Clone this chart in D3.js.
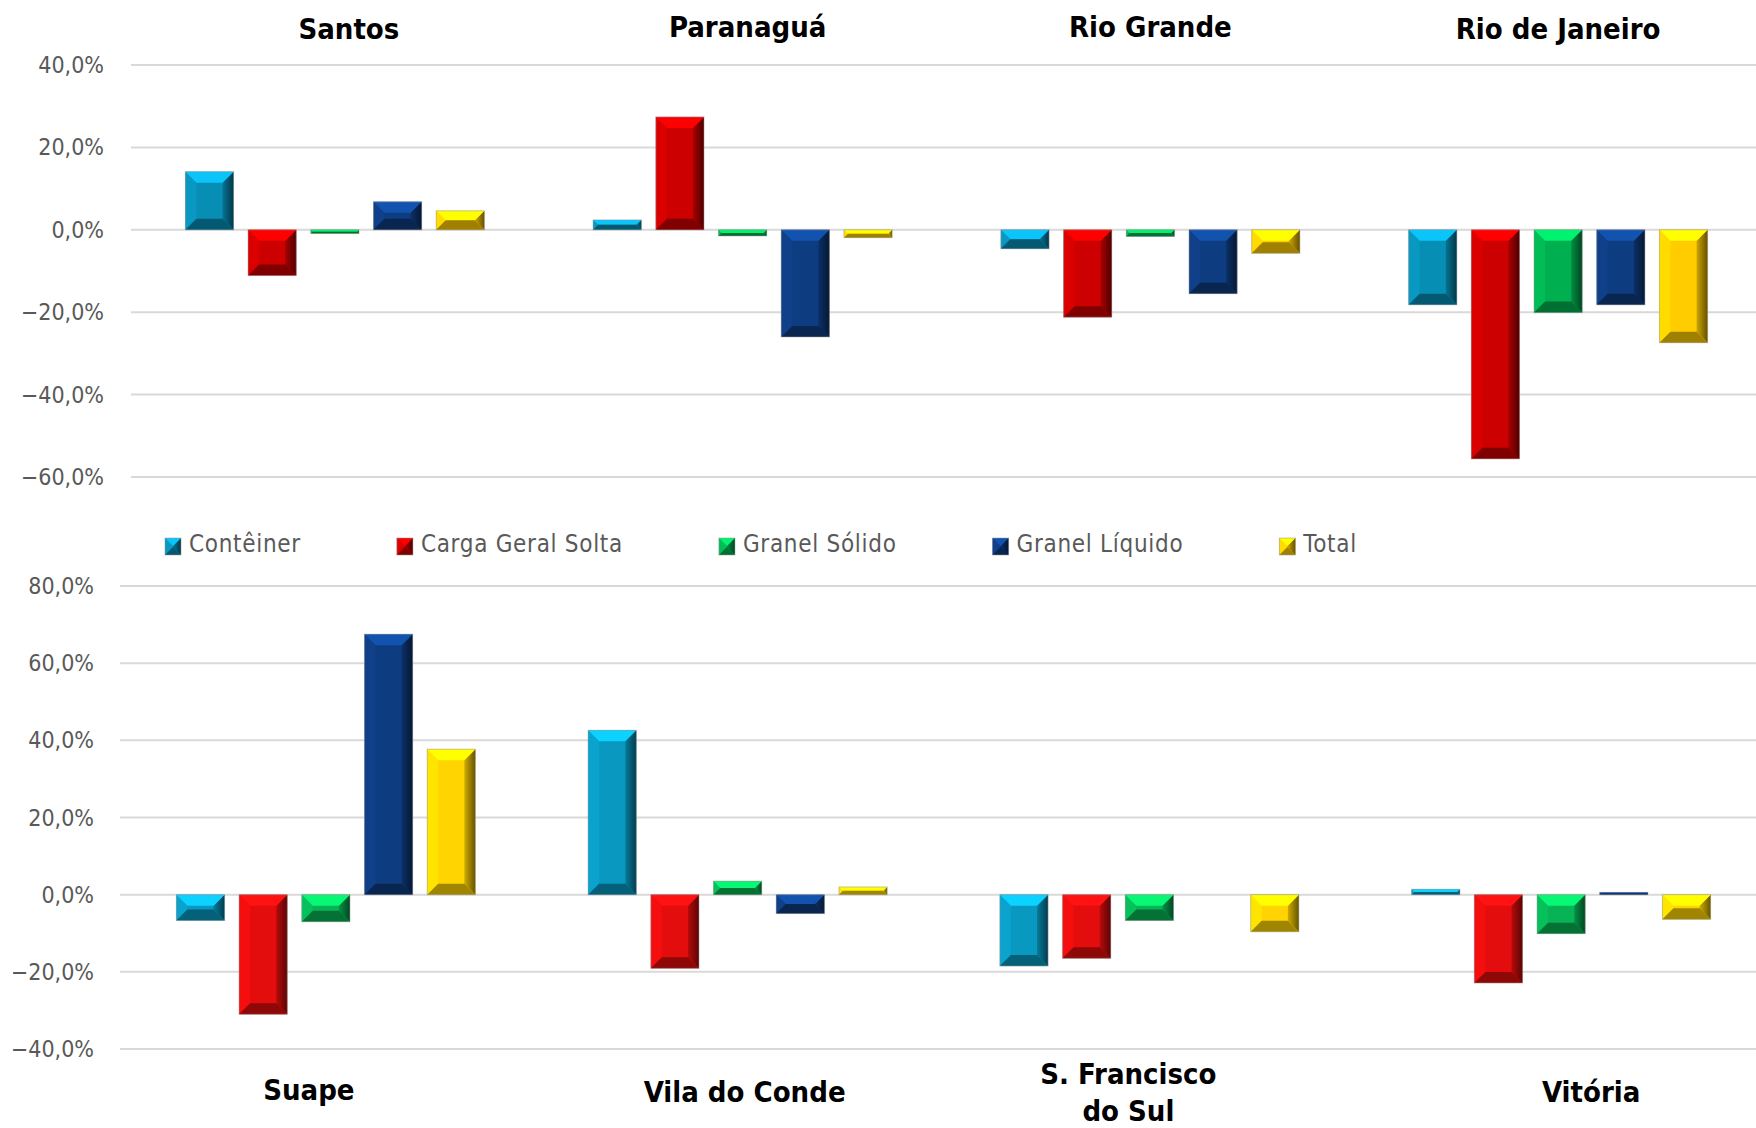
<html>
<head>
<meta charset="utf-8">
<script src="https://d3js.org/d3.v7.min.js"></script>
<style>
body { margin: 0; background: white; }
svg text { font-family: "DejaVu Sans Condensed", "DejaVu Sans", sans-serif; font-stretch: condensed; }
.ticklabel { fill: #595959; font-size: 23px; }
.title { font-weight: bold; font-size: 29px; fill: #000; }
.legend text { fill: #595959; font-size: 24px; letter-spacing: 0.7px; }
</style>
</head>
<body>
<svg width="1756" height="1128"></svg>
<script>
// cargo types (series)
const series = ["Contêiner", "Carga Geral Solta", "Granel Sólido", "Granel Líquido", "Total"];

// upper panel
const topPorts = ["Santos", "Paranaguá", "Rio Grande", "Rio de Janeiro"];
const topValues = [
  [14.1, -11.1, -0.9, 6.8, 4.6],
  [2.4, 27.4, -1.5, -26.0, -1.9],
  [-4.6, -21.2, -1.6, -15.5, -5.7],
  [-18.2, -55.6, -20.1, -18.2, -27.4]
];
const topTicks = [40, 20, 0, -20, -40, -60];

// lower panel
const bottomPorts = ["Suape", "Vila do Conde", "S. Francisco do Sul", "Vitória"];
const bottomLabels = [["Suape"], ["Vila do Conde"], ["S. Francisco", "do Sul"], ["Vitória"]];
const bottomValues = [
  [-6.7, -31.0, -7.0, 67.5, 37.7],
  [42.6, -19.1, 3.5, -4.9, 2.0],
  [-18.5, -16.5, -6.7, null, -9.6],
  [1.4, -22.9, -10.1, 0.6, -6.4]
];
const bottomTicks = [80, 60, 40, 20, 0, -20, -40];

const topColors = ["#078eb5", "#cc0000", "#00b050", "#0e3c80", "#ffcc00"];
const bottomColors = ["#0898c0", "#e30d0d", "#06b455", "#0e3c80", "#ffd400"];

const svg = d3.select("svg");
const W = 1756;
const defs = svg.append("defs");
let gradCount = 0;

function sideGradient(base) {
  const id = "g" + (gradCount++);
  const lg = defs.append("linearGradient").attr("id", id)
    .attr("x1", "0%").attr("x2", "100%").attr("y1", "0%").attr("y2", "0%");
  lg.append("stop").attr("offset", "0%").attr("stop-color", d3.color(base).darker(0.6));
  lg.append("stop").attr("offset", "100%").attr("stop-color", d3.color(base).darker(2.6));
  return id;
}

function bevel(g, x0, w, yA, yB, base, maxB) {
  const yT = Math.min(yA, yB), yBt = Math.max(yA, yB);
  const h = yBt - yT;
  if (h <= 0) return;
  const b = Math.min(maxB, h / 2, w / 2);
  const x1 = x0 + w;
  const light = d3.color(base).brighter(0.9);
  const dark = d3.color(base).darker(1.3);
  const pts = a => a.map(p => p.join(",")).join(" ");
  g.append("rect").attr("x", x0).attr("y", yT).attr("width", w).attr("height", h).attr("fill", base);
  g.append("polygon").attr("points", pts([[x0, yT], [x0 + b, yT + b], [x0 + b, yBt - b], [x0, yBt]]))
    .attr("fill", d3.color(base).brighter(0.2));
  g.append("polygon").attr("points", pts([[x1, yT], [x1 - b, yT + b], [x1 - b, yBt - b], [x1, yBt]]))
    .attr("fill", "url(#" + sideGradient(base) + ")");
  g.append("polygon").attr("points", pts([[x0, yT], [x1, yT], [x1 - b, yT + b], [x0 + b, yT + b]]))
    .attr("fill", light);
  g.append("polygon").attr("points", pts([[x0, yBt], [x1, yBt], [x1 - b, yBt - b], [x0 + b, yBt - b]]))
    .attr("fill", dark);
  g.append("rect").attr("x", x0).attr("y", yT).attr("width", w).attr("height", h)
    .attr("fill", "none").attr("stroke", "rgba(150,150,150,0.5)").attr("stroke-width", 1);
}

const fmt = d => d3.format(".1f")(d).replace(".", ",") + "%";

function panel(o) {
  const y = d3.scaleLinear().domain(o.yDomain).range(o.yRange);
  const x = d3.scaleBand().domain(o.ports).range(o.xRange).paddingInner(0).paddingOuter(0);
  const inner = 5 * 62.7;
  const x1 = d3.scaleBand().domain(series)
    .range([-inner / 2, inner / 2]).paddingInner(0.232).paddingOuter(0.116);

  const g = svg.append("g");
  // gridlines
  g.selectAll(".grid").data(o.ticks).enter().append("line")
    .attr("x1", o.xRange[0]).attr("x2", W)
    .attr("y1", d => y(d)).attr("y2", d => y(d))
    .attr("stroke", "#d9d9d9").attr("stroke-width", 2);
  // tick labels
  g.selectAll(".ticklabel").data(o.ticks).enter().append("text")
    .attr("class", "ticklabel")
    .attr("x", o.labelRight).attr("y", d => y(d)).attr("dy", "0.35em")
    .attr("text-anchor", "end").text(fmt);

  o.ports.forEach((p, i) => {
    const cx = x(p) + x.bandwidth() / 2;
    o.values[i].forEach((v, j) => {
      if (v == null) return;
      bevel(g, cx + x1(series[j]), x1.bandwidth(), y(0), y(v), o.colors[j], 11);
    });
    const lines = o.labels[i];
    const t = g.append("text").attr("class", "title").attr("text-anchor", "middle");
    lines.forEach((ln, k) => {
      t.append("tspan").attr("x", cx + o.titleDx[i])
        .attr("y", o.titleY[i] + k * 37).attr("dy", "0.35em").text(ln);
    });
  });
}

panel({
  ports: topPorts, labels: topPorts.map(p => [p]), values: topValues, ticks: topTicks, colors: topColors,
  yDomain: [-60, 40], yRange: [477, 65], xRange: [131, 1762], labelRight: 104,
  titleY: [29, 27, 27, 29], titleDx: [14, 5, 0, 0]
});

panel({
  ports: bottomPorts, labels: bottomLabels, values: bottomValues, ticks: bottomTicks, colors: bottomColors,
  yDomain: [-40, 80], yRange: [1049, 586], xRange: [120, 1767], labelRight: 94,
  titleY: [1090, 1092, 1074, 1092], titleDx: [-17, 7, -21, 30]
});

// legend
const lg = svg.append("g").attr("class", "legend");
let lx = 165;
series.forEach((s, j) => {
  const it = lg.append("g");
  bevel(it, lx, 16, 538, 555, topColors[j], 8);
  const t = it.append("text").attr("x", lx + 24).attr("y", 544).attr("dy", "0.35em").text(s);
  lx = lx + 24 + t.node().getComputedTextLength() + 96;
});
</script>
</body>
</html>
